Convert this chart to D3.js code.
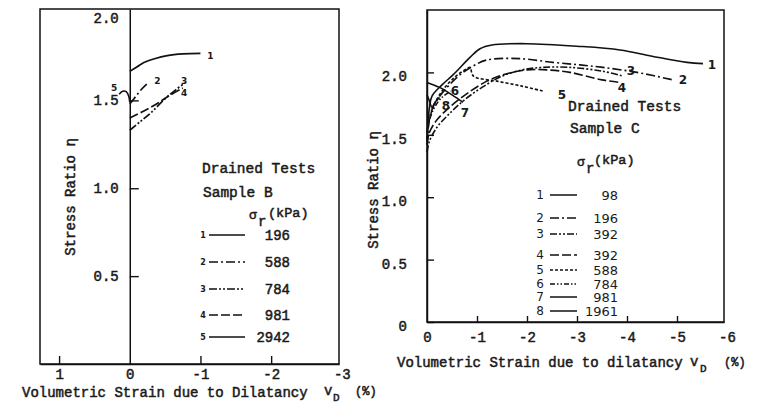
<!DOCTYPE html>
<html>
<head>
<meta charset="utf-8">
<script src="https://cdn.jsdelivr.net/npm/d3@7"></script>
<style>
  body { margin: 0; background: #fff; }
  svg { display: block; }
  .mono { font-family: 'Liberation Mono', 'DejaVu Sans Mono', monospace; fill: #1a1a1a; stroke: #1a1a1a; stroke-width: 0.5; }
  .sans { font-family: 'DejaVu Sans', 'Noto Sans', sans-serif; fill: #1a1a1a; }
</style>
</head>
<body>
<svg id="chart" width="761" height="414"></svg>
<script>
// ---- data: [v_D (%), stress ratio] ----
var B1 = [[0,1.665],[-0.1,1.69],[-0.2,1.715],[-0.35,1.737],[-0.53,1.755],[-0.75,1.765],[-1.0,1.768]];
var B2 = [[0,1.48],[-0.08,1.52],[-0.17,1.565],[-0.26,1.6]];
var B3 = [[0,1.33],[-0.15,1.38],[-0.3,1.43],[-0.5,1.51],[-0.65,1.56],[-0.78,1.6]];
var B4 = [[0,1.40],[-0.2,1.44],[-0.4,1.485],[-0.55,1.525],[-0.75,1.57]];
var B5 = [[0.15,1.535],[0.1,1.552],[0.05,1.55],[0.015,1.525],[0,1.49]];
var sampleB_curves = [B1, B2, B3, B4, B5];
var sampleB_sigma = ["196", "588", "784", "981", "2942"];
var sampleB_labelAt = [[-1.14,1.756],[-0.39,1.61],[-0.77,1.61],[-0.77,1.545],[0.22,1.57]];

var C1 = [[0,1.45],[-0.02,1.6],[-0.05,1.72],[-0.1,1.81],[-0.3,1.9],[-0.52,1.98],[-0.86,2.12],[-1.06,2.19],[-1.3,2.22],[-2,2.23],[-3,2.21],[-3.86,2.18],[-4.5,2.13],[-5.2,2.08],[-5.52,2.07]];
var C2 = [[0,1.42],[-0.03,1.57],[-0.08,1.68],[-0.2,1.78],[-0.6,1.96],[-0.92,2.05],[-1.2,2.1],[-1.86,2.11],[-2.52,2.08],[-3.06,2.06],[-3.52,2.04],[-4.2,2.0],[-4.92,1.94]];
var C3 = [[0,1.36],[-0.05,1.45],[-0.2,1.56],[-0.45,1.67],[-0.75,1.78],[-1.1,1.88],[-1.5,1.97],[-1.9,2.02],[-2.3,2.04],[-2.86,2.04],[-3.5,2.01],[-3.92,1.97]];
var C4 = [[0,1.42],[-0.05,1.52],[-0.2,1.62],[-0.45,1.72],[-0.8,1.83],[-1.2,1.93],[-1.6,1.99],[-2.0,2.02],[-2.4,2.02],[-2.86,2.0],[-3.5,1.94],[-3.86,1.92]];
var C5 = [[0,1.47],[-0.04,1.6],[-0.12,1.72],[-0.3,1.85],[-0.55,1.96],[-0.8,2.03],[-0.86,2.04],[-0.93,1.97],[-1.4,1.93],[-1.9,1.89],[-2.32,1.85]];
var C6 = [[0,1.52],[-0.05,1.62],[-0.15,1.72],[-0.3,1.8],[-0.48,1.85]];
var C7 = [[0,1.92],[-0.25,1.88],[-0.5,1.82],[-0.72,1.76]];
var C8 = [[0,1.82],[-0.05,1.77],[-0.1,1.72],[-0.16,1.76],[-0.25,1.8]];
var sampleC_curves = [C1, C2, C3, C4, C5, C6, C7, C8];
var sampleC_sigma = ["98", "196", "392", "392", "588", "784", "981", "1961"];
var sampleC_labelAt = [[-5.7,2.06],[-5.12,1.94],[-4.08,2.01],[-3.9,1.88],[-2.7,1.82],[-0.56,1.85],[-0.76,1.68],[-0.38,1.73]];

var B_xticks = [1, 0, -1, -2, -3];
var B_yticks = [0.5, 1.0, 1.5, 2.0];
var C_xticks = [0, -1, -2, -3, -4, -5, -6];
var C_yticks = [0, 0.5, 1.0, 1.5, 2.0];

// line styles (not data)
var B_dash = [null, "9,3,2,3", "8,2,2,2,2,2", "9,3", null];
var C_dash = [null, "9,3,2,3", "7,2,2,2,2,2", "9,3", "3,2", "5,2,1.5,2,1.5,2", null, null];

var svg = d3.select("#chart");
svg.append("rect").attr("width", 761).attr("height", 414).attr("fill", "#fff");

function styleAxis(a) {
  a.select(".domain").attr("stroke", "#111").attr("stroke-width", 1.5);
  a.selectAll(".tick line").attr("stroke", "#111").attr("stroke-width", 1.4);
  a.selectAll("text").attr("class", "mono").attr("font-size", 14).attr("fill", null);
  a.attr("font-family", null).attr("font-size", null);
}

// ---------------- left panel: Sample B ----------------
var xB = d3.scaleLinear().domain([1.27, -2.96]).range([40, 339]);
var yB = d3.scaleLinear().domain([0, 2.02]).range([364, 9]);
var lineB = d3.line().x(function(d) { return xB(d[0]); }).y(function(d) { return yB(d[1]); })
  .curve(d3.curveCatmullRom.alpha(0.5));

var gB = svg.append("g");
gB.append("rect").attr("x", 40).attr("y", 9).attr("width", 299).attr("height", 355)
  .attr("fill", "none").attr("stroke", "#111").attr("stroke-width", 1.5);

var axBy = gB.append("g").attr("transform", "translate(" + xB(0) + ",0)")
  .call(d3.axisLeft(yB).tickValues(B_yticks).tickSizeInner(-9).tickSizeOuter(0).tickPadding(11)
    .tickFormat(function(d) { return d.toFixed(1); }));
axBy.selectAll(".tick").filter(function(d) { return d === 2; })
  .call(function(t) { t.select("line").remove(); t.select("text").attr("dy", "0.7em"); });
var axBx = gB.append("g").attr("transform", "translate(0," + yB(0) + ")")
  .call(d3.axisBottom(xB).tickValues(B_xticks).tickSizeInner(-8).tickSizeOuter(0).tickPadding(5)
    .tickFormat(function(d) { return String(d); }));
axBx.selectAll(".tick line").filter(function(d) { return d === 0 || d === -3; }).remove();
styleAxis(axBy);
styleAxis(axBx);

gB.selectAll(".curve").data(sampleB_curves).enter().append("path")
  .attr("class", "curve")
  .attr("d", lineB)
  .attr("fill", "none").attr("stroke", "#111").attr("stroke-width", 1.7)
  .attr("stroke-dasharray", function(d, i) { return B_dash[i]; });

gB.selectAll(".clab").data(sampleB_labelAt).enter().append("text")
  .attr("class", "clab sans")
  .attr("x", function(d) { return xB(d[0]); }).attr("y", function(d) { return yB(d[1]); })
  .attr("dy", "0.35em").attr("text-anchor", "middle")
  .attr("font-size", 9).attr("font-weight", "bold")
  .text(function(d, i) { return i + 1; });

gB.append("text").attr("class", "mono").attr("x", 202).attr("y", 173).attr("font-size", 14.5).text("Drained Tests");
gB.append("text").attr("class", "mono").attr("x", 203).attr("y", 197).attr("font-size", 14.5).text("Sample B");
gB.append("text").attr("class", "mono").attr("x", 249).attr("y", 219).attr("font-size", 13).text("\u03c3");
gB.append("text").attr("class", "mono").attr("x", 258).attr("y", 226).attr("font-size", 14).text("r");
gB.append("text").attr("class", "mono").attr("x", 268).attr("y", 217).attr("font-size", 13.5).text("(kPa)");

var rowsB = [235, 262, 289, 315, 337];
var legB = gB.selectAll(".legB").data(sampleB_sigma).enter().append("g").attr("class", "legB")
  .attr("transform", function(d, i) { return "translate(0," + rowsB[i] + ")"; });
legB.append("text").attr("class", "sans").attr("x", 203).attr("dy", "0.35em")
  .attr("text-anchor", "middle").attr("font-size", 8).attr("font-weight", "bold")
  .text(function(d, i) { return i + 1; });
legB.append("line").attr("x1", 209).attr("x2", 245)
  .attr("stroke", "#111").attr("stroke-width", 1.7)
  .attr("stroke-dasharray", function(d, i) { return B_dash[i]; });
legB.append("text").attr("class", "mono").attr("x", 290).attr("dy", "0.35em")
  .attr("text-anchor", "end").attr("font-size", 14).text(function(d) { return d; });

gB.append("text").attr("class", "mono").attr("font-size", 14)
  .attr("transform", "translate(75,197) rotate(-90)").attr("text-anchor", "middle")
  .text("Stress Ratio \u03b7");
gB.append("text").attr("class", "mono").attr("x", 22).attr("y", 397).attr("font-size", 14)
  .text("Volumetric Strain due to Dilatancy");
gB.append("text").attr("class", "mono").attr("x", 324).attr("y", 395).attr("font-size", 14).text("v");
gB.append("text").attr("class", "mono").attr("x", 333).attr("y", 401).attr("font-size", 11).text("D");
gB.append("text").attr("class", "mono").attr("x", 355).attr("y", 395).attr("font-size", 12).text("(%)");

// ---------------- right panel: Sample C ----------------
var xC = d3.scaleLinear().domain([0, -5.94]).range([427, 724]);
var yC = d3.scaleLinear().domain([0, 2.5]).range([322, 10]);
var lineC = d3.line().x(function(d) { return xC(d[0]); }).y(function(d) { return yC(d[1]); })
  .curve(d3.curveCatmullRom.alpha(0.5));

var gC = svg.append("g");
gC.append("rect").attr("x", 427).attr("y", 10).attr("width", 297).attr("height", 312)
  .attr("fill", "none").attr("stroke", "#111").attr("stroke-width", 1.5);

var axCy = gC.append("g").attr("transform", "translate(" + xC(0) + ",0)")
  .call(d3.axisLeft(yC).tickValues(C_yticks).tickSizeInner(-7).tickSizeOuter(0).tickPadding(20)
    .tickFormat(function(d) { return d === 0 ? "0" : d.toFixed(1); }));
axCy.selectAll("text").attr("dy", "0.6em");
var axCx = gC.append("g").attr("transform", "translate(0," + yC(0) + ")")
  .call(d3.axisBottom(xC).tickValues(C_xticks).tickSizeInner(-6).tickSizeOuter(0).tickPadding(10)
    .tickFormat(function(d) { return String(d); }));
axCx.selectAll(".tick line").filter(function(d) { return d === 0 || d === -6; }).remove();
styleAxis(axCy);
styleAxis(axCx);

gC.selectAll(".curve").data(sampleC_curves).enter().append("path")
  .attr("class", "curve")
  .attr("d", lineC)
  .attr("fill", "none").attr("stroke", "#111").attr("stroke-width", 1.6)
  .attr("stroke-dasharray", function(d, i) { return C_dash[i]; });

gC.selectAll(".clab").data(sampleC_labelAt).enter().append("text")
  .attr("class", "clab sans")
  .attr("x", function(d) { return xC(d[0]); }).attr("y", function(d) { return yC(d[1]); })
  .attr("dy", "0.35em").attr("text-anchor", "middle")
  .attr("font-size", 12).attr("font-weight", "bold")
  .text(function(d, i) { return i + 1; });

gC.append("text").attr("class", "mono").attr("x", 568).attr("y", 111).attr("font-size", 14.5).text("Drained Tests");
gC.append("text").attr("class", "mono").attr("x", 570).attr("y", 133).attr("font-size", 14.5).text("Sample C");
gC.append("text").attr("class", "mono").attr("x", 577).attr("y", 166).attr("font-size", 13).text("\u03c3");
gC.append("text").attr("class", "mono").attr("x", 586).attr("y", 173).attr("font-size", 14).text("r");
gC.append("text").attr("class", "mono").attr("x", 594).attr("y", 164).attr("font-size", 13.5).text("(kPa)");

var rowsC = [195, 218, 234, 255, 270, 284, 297, 311];
var legC = gC.selectAll(".legC").data(sampleC_sigma).enter().append("g").attr("class", "legC")
  .attr("transform", function(d, i) { return "translate(0," + rowsC[i] + ")"; });
legC.append("text").attr("class", "sans").attr("x", 540).attr("dy", "0.35em")
  .attr("text-anchor", "middle").attr("font-size", 12)
  .text(function(d, i) { return i + 1; });
legC.append("line").attr("x1", 550).attr("x2", 577)
  .attr("stroke", "#111").attr("stroke-width", 1.5)
  .attr("stroke-dasharray", function(d, i) { return C_dash[i]; });
legC.append("text").attr("class", "sans").attr("x", 618).attr("dy", "0.35em")
  .attr("text-anchor", "end").attr("font-size", 13)
  .attr("font-family", "'DejaVu Sans Mono', monospace")
  .text(function(d) { return d; });

gC.append("text").attr("class", "mono").attr("font-size", 14)
  .attr("transform", "translate(378,190) rotate(-90)").attr("text-anchor", "middle")
  .text("Stress Ratio \u03b7");
gC.append("text").attr("class", "mono").attr("x", 397).attr("y", 367).attr("font-size", 14)
  .text("Volumetric Strain due to dilatancy");
gC.append("text").attr("class", "mono").attr("x", 690).attr("y", 366).attr("font-size", 14).text("v");
gC.append("text").attr("class", "mono").attr("x", 700).attr("y", 372).attr("font-size", 11).text("D");
gC.append("text").attr("class", "mono").attr("x", 724).attr("y", 366).attr("font-size", 12).text("(%)");
</script>
</body>
</html>
